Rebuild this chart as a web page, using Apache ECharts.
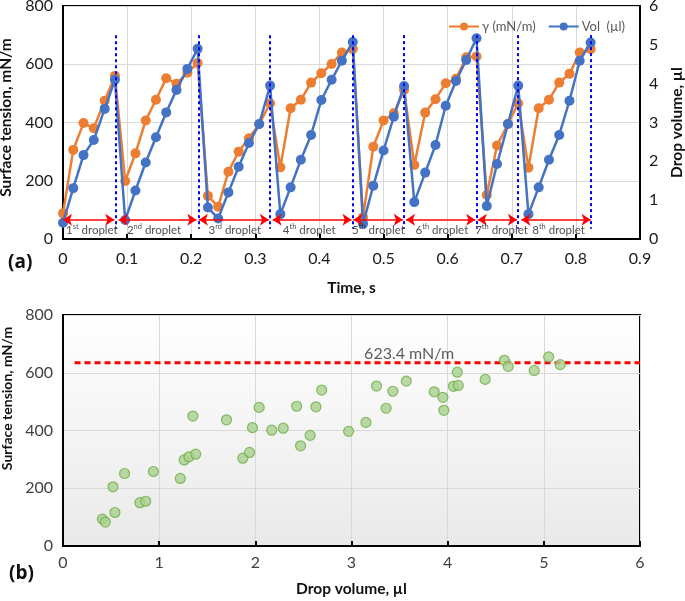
<!DOCTYPE html>
<html><head><meta charset="utf-8">
<script src="https://cdn.jsdelivr.net/npm/echarts@6/dist/echarts.min.js"></script>
<style>html,body{margin:0;padding:0;background:#fff}#c{width:685px;height:601px}</style>
</head><body><div id="c"></div>
<script>
// ---------- Panel (a) data ----------
const timeS = [0, 0.016, 0.032, 0.048, 0.065, 0.081, 0.097, 0.113, 0.129, 0.145, 0.161, 0.177, 0.194, 0.210,
  0.226, 0.242, 0.258, 0.274, 0.290, 0.306, 0.323, 0.339, 0.355, 0.371, 0.387, 0.403, 0.419, 0.435, 0.452,
  0.468, 0.484, 0.500, 0.516, 0.532, 0.548, 0.565, 0.581, 0.597, 0.613, 0.629, 0.645, 0.661, 0.677, 0.694,
  0.710, 0.726, 0.742, 0.758, 0.774, 0.790, 0.806, 0.823];
const gammaMNm = [88, 306, 398, 380, 475, 560,
  199, 294, 407, 478, 552, 533, 571, 604,
  148, 111, 231, 300, 346, 394, 466,
  246, 449, 478, 537, 569, 601, 640, 652,
  75, 317, 407, 432, 512,
  254, 434, 480, 535, 550, 624, 627,
  151, 321, 395, 466,
  245, 449, 478, 537, 567, 640, 652];
const volumeUl = [0.42, 1.31, 2.16, 2.55, 3.35, 4.10,
  0.49, 1.25, 1.97, 2.62, 3.26, 3.84, 4.38, 4.90,
  0.81, 0.53, 1.20, 1.86, 2.47, 2.96, 3.95,
  0.64, 1.33, 2.04, 2.68, 3.58, 4.10, 4.59, 5.07,
  0.39, 1.37, 2.28, 3.15, 3.94,
  0.95, 1.71, 2.42, 3.43, 4.07, 4.61, 5.17,
  0.85, 1.93, 2.96, 3.95,
  0.64, 1.33, 2.04, 2.68, 3.56, 4.59, 5.06];
const dividerTimes = [0.082, 0.211, 0.323, 0.452, 0.532, 0.645, 0.710, 0.823];
const dividerRange = [35, 700];
const arrowStart = [0.000, 0.087, 0.212, 0.327, 0.453, 0.535, 0.647, 0.715];
const arrowEnd   = [0.080, 0.208, 0.321, 0.450, 0.530, 0.643, 0.708, 0.823];
const arrowLevel = 66;
const dropletLabelT = [0.045, 0.142, 0.268, 0.384, 0.492, 0.591, 0.684, 0.773];
const labelLevel = 34;
const dropletNum = ['1', '2', '3', '4', '5', '6', '7', '8'];
const dropletSup = ['st', 'nd', 'rd', 'th', 'th', 'th', 'th', 'th'];
const seriesNames = ['γ (mN/m)', 'Vol  (µl)'];

// ---------- Panel (b) data ----------
const scatterVol = [0.41, 0.44, 0.52, 0.54, 0.64, 0.80, 0.86, 0.94, 1.22, 1.26, 1.31, 1.38, 1.35, 1.70,
  1.87, 1.94, 1.97, 2.04, 2.17, 2.29, 2.43, 2.47, 2.57, 2.63, 2.69, 2.97, 3.15, 3.26, 3.36, 3.43, 3.57,
  3.86, 3.95, 3.96, 4.06, 4.11, 4.10, 4.39, 4.59, 4.63, 4.90, 5.05, 5.17];
const scatterGamma = [93, 83, 205, 116, 251, 150, 155, 258, 234, 298, 309, 318, 450, 437,
  304, 324, 410, 480, 401, 408, 484, 347, 383, 482, 540, 397, 428, 554, 477, 536, 571,
  534, 515, 470, 553, 556, 602, 577, 643, 622, 608, 655, 628];
const refLineY = 635;
const refLineFrom = 0.12;
const refLineTo = 6;
const refLabel = '623.4 mN/m';
const refLabelX = 3.6;
const panelTags = ['(a)', '(b)'];

const FONT = 'Lato';
const tickFont = {fontFamily: FONT, fontSize: 16, color: '#1a1a1a'};
const tickFontB = {fontFamily: FONT, fontSize: 16, color: '#404040'};
const nameFont = {fontFamily: FONT, fontSize: 15.5, fontWeight: 'bold', color: '#111'};
const tagFont = {fontFamily: 'Open Sans', fontSize: 19, fontWeight: 'bold', color: '#111'};

const chart = echarts.init(document.getElementById('c'), null, {renderer: 'canvas'});

const labelData = dropletNum.map((n, i) => ({
  value: [dropletLabelT[i], labelLevel],
  label: {formatter: '{n|' + n + '}{s|' + dropletSup[i] + '}{n| droplet}'}
}));

const option = {
  animation: false,
  backgroundColor: '#fff',
  title: [
    {text: panelTags[0], left: 4, top: 249, padding: 4, textStyle: tagFont},
    {text: panelTags[1], left: 5, top: 560, padding: 4, textStyle: tagFont}
  ],
  grid: [
    {left: 63, right: 45, top: 6, height: 233, outerBoundsMode: 'none', containLabel: false,
      show: true, borderColor: '#000', borderWidth: 2, backgroundColor: '#fff'},
    {left: 63, right: 45, top: 315, height: 231, outerBoundsMode: 'none', containLabel: false,
      show: true, borderColor: '#000', borderWidth: 2,
      backgroundColor: {type: 'linear', x: 0, y: 0, x2: 0, y2: 1,
        colorStops: [{offset: 0, color: '#ffffff'}, {offset: 1, color: '#e9e9e9'}]}}
  ],
  legend: {
    left: 443, top: 15, itemWidth: 30, itemHeight: 10, itemGap: 12,
    data: seriesNames,
    textStyle: {fontFamily: FONT, fontSize: 13, color: '#595959', padding: [0, 0, 0, -2]}
  },
  xAxis: [
    {gridIndex: 0, type: 'value', min: 0, max: 0.9, interval: 0.1,
      axisLine: {lineStyle: {color: '#000', width: 2}},
      axisTick: {show: true, inside: true, length: 5, lineStyle: {color: '#000', width: 2}},
      axisLabel: Object.assign({margin: 12, formatter: v => +v.toFixed(1) + ''}, tickFont),
      splitLine: {show: true, lineStyle: {color: '#d9d9d9', width: 1}},
      name: 'Time, s', nameLocation: 'middle', nameGap: 41, nameTextStyle: nameFont},
    {gridIndex: 1, type: 'value', min: 0, max: 6, interval: 1,
      axisLine: {lineStyle: {color: '#000', width: 2}},
      axisTick: {show: true, inside: true, length: 5, lineStyle: {color: '#000', width: 2}},
      axisLabel: Object.assign({margin: 9}, tickFontB),
      splitLine: {show: true, lineStyle: {color: '#d9d9d9', width: 1}},
      name: 'Drop volume, µl', nameLocation: 'middle', nameGap: 35, nameTextStyle: nameFont}
  ],
  yAxis: [
    {gridIndex: 0, type: 'value', min: 0, max: 800, interval: 200,
      axisLine: {show: true, lineStyle: {color: '#000', width: 2}},
      axisTick: {show: false},
      axisLabel: Object.assign({margin: 10}, tickFont),
      splitLine: {show: true, lineStyle: {color: '#d9d9d9', width: 1}},
      name: 'Surface tension, mN/m', nameLocation: 'middle', nameGap: 42, nameRotate: 90,
      nameTextStyle: Object.assign({}, nameFont, {padding: [0, 0, 0, 10]})},
    {gridIndex: 0, type: 'value', position: 'right', min: 0, max: 6, interval: 1,
      axisLine: {show: true, lineStyle: {color: '#000', width: 2}},
      axisTick: {show: false},
      axisLabel: Object.assign({margin: 9}, tickFont),
      splitLine: {show: false},
      name: 'Drop volume, µl', nameLocation: 'middle', nameGap: 27, nameRotate: 90, nameTextStyle: nameFont},
    {gridIndex: 1, type: 'value', min: 0, max: 800, interval: 200,
      axisLine: {show: true, lineStyle: {color: '#000', width: 2}},
      axisTick: {show: false},
      axisLabel: Object.assign({margin: 10}, tickFontB),
      splitLine: {show: true, lineStyle: {color: '#d9d9d9', width: 1}},
      name: 'Surface tension, mN/m', nameLocation: 'middle', nameGap: 43, nameRotate: 90,
      nameTextStyle: Object.assign({}, nameFont, {fontSize: 14, padding: [0, 0, 0, 64]})}
  ],
  series: [
    {name: seriesNames[0], type: 'line', xAxisIndex: 0, yAxisIndex: 0,
      data: timeS.map((t, i) => [t, gammaMNm[i]]),
      symbol: 'circle', symbolSize: 10, showAllSymbol: true,
      lineStyle: {color: '#ED7D31', width: 2.5}, itemStyle: {color: '#ED7D31'},
      emphasis: {disabled: true}, z: 3},
    {name: seriesNames[1], type: 'line', xAxisIndex: 0, yAxisIndex: 1,
      data: timeS.map((t, i) => [t, volumeUl[i]]),
      symbol: 'circle', symbolSize: 10, showAllSymbol: true,
      lineStyle: {color: '#4472C4', width: 2.5}, itemStyle: {color: '#4472C4'},
      emphasis: {disabled: true}, z: 4},
    {name: 'annot', type: 'scatter', xAxisIndex: 0, yAxisIndex: 0, symbolSize: 0, z: 5,
      data: labelData,
      label: {show: true, position: 'inside', color: '#222',
        rich: {n: {fontFamily: FONT, fontSize: 11.5, color: '#222', verticalAlign: 'bottom', lineHeight: 14},
               s: {fontFamily: FONT, fontSize: 7.5, color: '#222', verticalAlign: 'top', lineHeight: 14}}},
      emphasis: {disabled: true},
      markLine: {silent: true, animation: false, symbol: ['none', 'none'], label: {show: false},
        lineStyle: {color: '#0000FF', type: [3, 3], width: 2},
        data: dividerTimes.map(t => [{coord: [t, dividerRange[1]]}, {coord: [t, dividerRange[0]]}])}
    },
    {name: 'arrows', type: 'scatter', xAxisIndex: 0, yAxisIndex: 0, symbolSize: 0, data: [], z: 5,
      markLine: {silent: true, animation: false, symbol: ['arrow', 'arrow'], symbolSize: [9, 9], label: {show: false},
        lineStyle: {color: '#FF0000', type: 'solid', width: 1.5},
        data: arrowStart.map((s, i) => [{coord: [s, arrowLevel]}, {coord: [arrowEnd[i], arrowLevel]}])}
    },
    {name: 'ref', type: 'line', xAxisIndex: 1, yAxisIndex: 2, symbol: 'none',
      data: [[refLineFrom, refLineY], [refLineTo, refLineY]],
      lineStyle: {color: '#FF0000', type: [6, 4], width: 3}, emphasis: {disabled: true}, z: 2},
    {name: 'refLabel', type: 'scatter', xAxisIndex: 1, yAxisIndex: 2, symbolSize: 0,
      data: [[refLabelX, refLineY]],
      label: {show: true, position: 'top', distance: 1, formatter: refLabel,
        fontFamily: FONT, fontSize: 16, color: '#333'}, emphasis: {disabled: true}},
    {name: 'scatter', type: 'scatter', xAxisIndex: 1, yAxisIndex: 2,
      data: scatterVol.map((v, i) => [v, scatterGamma[i]]),
      symbolSize: 10, itemStyle: {color: '#A9D18E', borderColor: '#70AD47', borderWidth: 1.2},
      emphasis: {disabled: true}, z: 4}
  ]
};
chart.setOption(option);
</script>
</body></html>
